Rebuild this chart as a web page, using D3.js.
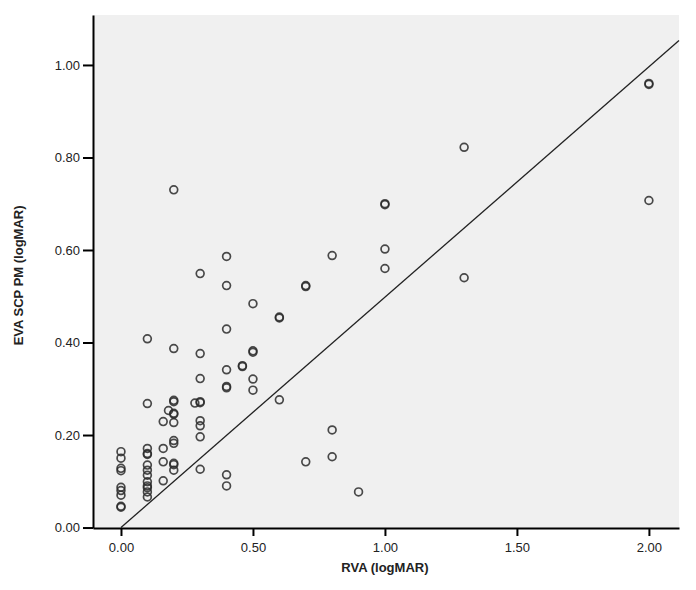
<!DOCTYPE html>
<html>
<head>
<meta charset="utf-8">
<script src="https://cdn.jsdelivr.net/npm/d3@7"></script>
<style>
  body { margin: 0; background: #fff; }
  text { font-family: "Liberation Sans", Arial, sans-serif; }
</style>
</head>
<body>
<div id="chart"></div>
<script>
// values (RVA, EVA SCP PM), both logMAR
let rva = [
  0, 0, 0, 0, 0, 0, 0, 0, 0,
  0.1, 0.1, 0.1, 0.1, 0.1, 0.1, 0.1, 0.1, 0.1, 0.1, 0.1, 0.1, 0.1,
  0.16, 0.16, 0.16, 0.16,
  0.18,
  0.2, 0.2, 0.2, 0.2, 0.2, 0.2, 0.2, 0.2, 0.2, 0.2, 0.2, 0.2,
  0.28,
  0.3, 0.3, 0.3, 0.3, 0.3, 0.3, 0.3, 0.3, 0.3,
  0.4, 0.4, 0.4, 0.4, 0.4, 0.4, 0.4, 0.4,
  0.46, 0.46,
  0.5, 0.5, 0.5, 0.5, 0.5,
  0.6, 0.6, 0.6,
  0.7, 0.7, 0.7,
  0.8, 0.8, 0.8,
  0.9,
  1, 1, 1, 1,
  1.3, 1.3,
  2, 2, 2
];
let eva = [
  0.164, 0.150, 0.128, 0.123, 0.087, 0.080, 0.070, 0.046, 0.044,
  0.408, 0.268, 0.171, 0.160, 0.158, 0.135, 0.124, 0.113, 0.099, 0.090, 0.086, 0.077, 0.066,
  0.229, 0.171, 0.142, 0.101,
  0.253,
  0.730, 0.387, 0.275, 0.272, 0.247, 0.245, 0.227, 0.188, 0.182, 0.139, 0.136, 0.124,
  0.269,
  0.549, 0.376, 0.322, 0.272, 0.270, 0.231, 0.220, 0.196, 0.126,
  0.586, 0.523, 0.429, 0.341, 0.305, 0.302, 0.114, 0.090,
  0.350, 0.348,
  0.484, 0.382, 0.379, 0.321, 0.297,
  0.455, 0.453, 0.276,
  0.523, 0.521, 0.142,
  0.588, 0.211, 0.153,
  0.077,
  0.700, 0.698, 0.602, 0.560,
  0.822, 0.540,
  0.960, 0.958, 0.707
];
let xTicks = [0, 0.5, 1, 1.5, 2];
let yTicks = [0, 0.2, 0.4, 0.6, 0.8, 1.0];
let fitIntercept = 0;
let fitSlope = 0.498;

// configuration of svg/plot area
let config = { svg: {}, margin: {}, plot: {} };
config.svg.width = 696;
config.svg.height = 590;
config.margin.top = 15;
config.margin.left = 93;
config.margin.right = 17;
config.margin.bottom = 62;
config.plot.width = config.svg.width - config.margin.left - config.margin.right;
config.plot.height = config.svg.height - config.margin.top - config.margin.bottom;

function translate(x, y) {
  return 'translate(' + x + ',' + y + ')';
}

let svg = d3.select('#chart').append('svg')
  .attr('width', config.svg.width)
  .attr('height', config.svg.height);

let g = svg.append('g')
  .attr('transform', translate(config.margin.left, config.margin.top));

let x = d3.scaleLinear().domain([-0.106, 2.114]).range([0, config.plot.width]);
let y = d3.scaleLinear().domain([-0.001, 1.108]).range([config.plot.height, 0]);

g.append('rect')
  .attr('width', config.plot.width)
  .attr('height', config.plot.height)
  .attr('fill', '#f0f0f0');

// fit line
let x0 = 0, x1 = x.domain()[1];
g.append('line')
  .attr('x1', x(x0)).attr('y1', y(fitIntercept + fitSlope * x0))
  .attr('x2', x(x1)).attr('y2', y(fitIntercept + fitSlope * x1))
  .attr('stroke', '#222')
  .attr('stroke-width', 1.3);

let points = rva.map((d, i) => ({ x: d, y: eva[i] }));
g.selectAll('circle.pt')
  .data(points)
  .enter().append('circle')
  .attr('class', 'pt')
  .attr('cx', d => x(d.x))
  .attr('cy', d => y(d.y))
  .attr('r', 3.9)
  .attr('fill', 'none')
  .attr('stroke', '#2a2a2a')
  .attr('stroke-opacity', 0.85)
  .attr('stroke-width', 1.7);

let xAxis = d3.axisBottom(x).tickValues(xTicks).tickFormat(d3.format('.2f')).tickSize(8).tickSizeOuter(0);
let yAxis = d3.axisLeft(y).tickValues(yTicks).tickFormat(d3.format('.2f')).tickSize(10).tickSizeOuter(0);

let gx = g.append('g')
  .attr('transform', translate(0, config.plot.height))
  .call(xAxis);
let gy = g.append('g').call(yAxis);

[gx, gy].forEach(a => {
  a.select('.domain').attr('stroke', '#000').attr('stroke-width', 2);
  a.selectAll('.tick line').attr('stroke', '#000').attr('stroke-width', 2);
  a.selectAll('.tick text').attr('fill', '#222').style('font-size', '13px');
});
gx.selectAll('.tick text').attr('dy', '1.0em');
gy.selectAll('.tick text').attr('x', -13);

svg.append('text')
  .attr('x', config.margin.left + x(1))
  .attr('y', 572)
  .attr('text-anchor', 'middle')
  .style('font-size', '13px')
  .style('font-weight', 'bold')
  .attr('fill', '#222')
  .text('RVA (logMAR)');

svg.append('text')
  .attr('transform', translate(23, config.margin.top + y(0.545)) + ' rotate(-90)')
  .attr('text-anchor', 'middle')
  .style('font-size', '13px')
  .style('font-weight', 'bold')
  .attr('fill', '#222')
  .text('EVA SCP PM (logMAR)');
</script>
</body>
</html>
